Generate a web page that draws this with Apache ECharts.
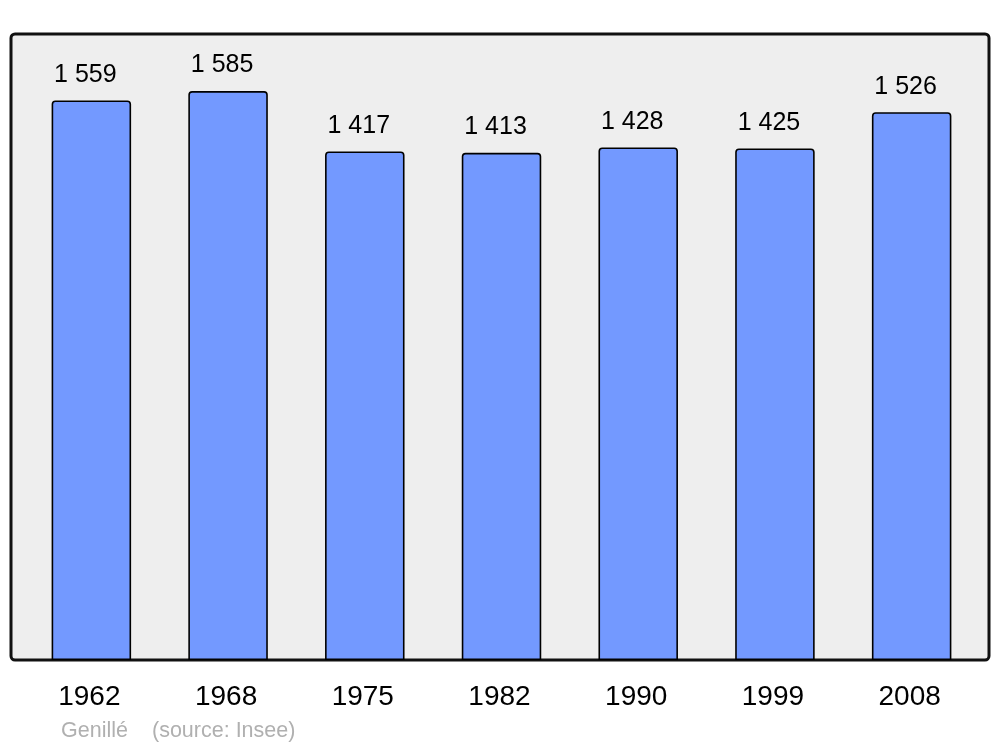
<!DOCTYPE html>
<html>
<head>
<meta charset="utf-8">
<script src="https://cdn.jsdelivr.net/npm/echarts@6/dist/echarts.min.js"></script>
<style>html,body{margin:0;padding:0;background:#fff}#c{width:1000px;height:747px}</style>
</head>
<body>
<div id="c"></div>
<script>
const years = ['1962', '1968', '1975', '1982', '1990', '1999', '2008'];
const population = [1559, 1585, 1417, 1413, 1428, 1425, 1526];
const placeName = 'Genillé';
const sourceText = '(source: Insee)';

const chart = echarts.init(document.getElementById('c'), null, {renderer: 'canvas'});
const fmt = v => String(v).replace(/\B(?=(\d{3})+(?!\d))/g, ' ');
const FF = 'Liberation Sans, Arial, sans-serif';
chart.setOption({
  animation: false,
  backgroundColor: '#ffffff',
  textStyle: {fontFamily: FF},
  graphic: [
    {type: 'rect', z: -10, shape: {x: 11, y: 34, width: 978, height: 626, r: 4},
     style: {fill: '#eeeeee', stroke: '#111111', lineWidth: 3}},
    {type: 'text', left: 61, top: 720, style: {text: placeName, fill: '#b0b0b0', fontSize: 21.5, fontFamily: FF}},
    {type: 'text', left: 152, top: 720, style: {text: sourceText, fill: '#b0b0b0', fontSize: 21.5, fontFamily: FF}}
  ],
  grid: {left: 23, right: 20, top: 34, bottom: 87, containLabel: false},
  xAxis: {
    type: 'category', data: years,
    axisLine: {show: false}, axisTick: {show: false},
    axisLabel: {fontSize: 28, color: '#000', margin: 23, fontFamily: FF,
      padding: [0, 4, 0, 0]}
  },
  yAxis: {type: 'value', min: 0, max: 1744, show: false, splitLine: {show: false}},
  series: [{
    type: 'bar', data: population, barWidth: 79.5,
    itemStyle: {color: '#7399ff', borderColor: '#000', borderWidth: 1.6, borderRadius: [3, 3, 0, 0]},
    label: {show: true, position: 'top', distance: 13, offset: [-6, 0], fontSize: 25, color: '#000',
      fontFamily: FF, formatter: p => fmt(p.value)}
  }]
});
</script>
</body>
</html>
